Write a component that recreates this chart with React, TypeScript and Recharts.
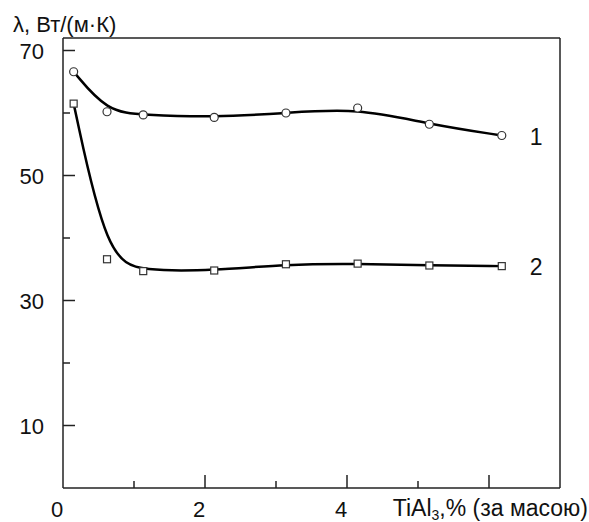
import { LineChart, Line, XAxis, YAxis, ReferenceLine, LabelList } from "recharts"

const FONT = "'Liberation Sans', Arial, sans-serif"

// concentration of TiAl3, % by mass
const xValues = [0.15, 0.62, 1.13, 2.13, 3.14, 4.15, 5.16, 6.18]
// thermal conductivity, curve 1 (circles) and curve 2 (squares)
const series1 = [66.6, 60.2, 59.7, 59.3, 60.0, 60.8, 58.2, 56.4]
const series2 = [61.5, 36.6, 34.7, 34.8, 35.8, 35.9, 35.6, 35.5]

const yTicks = [0, 10, 20, 30, 40, 50, 60, 70]
const yLabeled = [10, 30, 50, 70]
const xTicks = [0, 1, 2, 3, 4, 5, 6, 7]
const xLabeled = [0, 2, 4]

const data = xValues.map((x, i) => ({ x, s1: series1[i], s2: series2[i] }))

const YTick = (props: any) => {
  const { x, y, payload } = props
  const v = payload.value
  if (v === 0) return null
  const major = yLabeled.includes(v)
  return (
    <g>
      <line x1={x} x2={x + (major ? 12 : 7)} y1={y} y2={y} stroke="#222" strokeWidth={1.5} />
      {major && (
        <text x={x - 19} y={y + 8} textAnchor="end" fontSize={22} fontFamily={FONT} fill="#111">
          {v}
        </text>
      )}
    </g>
  )
}

const XTick = (props: any) => {
  const { x, y, payload } = props
  const v = payload.value
  const major = v % 2 === 0
  return (
    <g>
      {v > 0 && v < 7 && (
        <line x1={x} x2={x} y1={y} y2={y - (major ? 13 : 7)} stroke="#222" strokeWidth={1.5} />
      )}
      {xLabeled.includes(v) && (
        <text x={x - 6} y={y + 29} textAnchor="middle" fontSize={22} fontFamily={FONT} fill="#111">
          {v}
        </text>
      )}
    </g>
  )
}

const CircleDot = (props: any) => {
  const { cx, cy } = props
  return <circle cx={cx} cy={cy} r={4} fill="#fff" stroke="#333" strokeWidth={1.2} />
}

const SquareDot = (props: any) => {
  const { cx, cy } = props
  return <rect x={cx - 3.5} y={cy - 3.5} width={7} height={7} fill="#fff" stroke="#333" strokeWidth={1.2} />
}

const seriesLabel = (name: string) => (props: any) => {
  const { x, y, index } = props
  if (index !== xValues.length - 1) return null
  return (
    <text x={x + 28} y={y + 9} fontSize={23} fontFamily={FONT} fill="#111">
      {name}
    </text>
  )
}

const YTitle = (props: any) => {
  const vb = props.viewBox || { x: 0, y: 38 }
  return (
    <text x={vb.x + 13} y={vb.y - 6} fontSize={22} fontFamily={FONT} fill="#111">
      λ, Вт/(м·К)
    </text>
  )
}

const XTitle = (props: any) => {
  const vb = props.viewBox || { x: 63, y: 488, width: 497 }
  return (
    <text x={vb.x + vb.width + 28} y={vb.y + 28} textAnchor="end" fontSize={23} fontFamily={FONT} fill="#111">
      TiAl
      <tspan fontSize={14} dy={4}>3</tspan>
      <tspan dy={-4}>,% (за масою)</tspan>
    </text>
  )
}

export default function App() {
  return (
    <div style={{ position: "absolute", left: 0, top: 0, background: "#fff", fontFamily: FONT }}>
      <LineChart width={589} height={522} data={data} margin={{ top: 38, right: 29, bottom: 0, left: 0 }}>
        <XAxis
          dataKey="x"
          type="number"
          domain={[0, 7]}
          ticks={xTicks}
          tick={<XTick />}
          tickLine={false}
          tickSize={0}
          tickMargin={0}
          height={34}
          axisLine={{ stroke: "#222", strokeWidth: 1.5 }}
          label={{ content: <XTitle /> }}
        />
        <YAxis
          type="number"
          domain={[0, 72]}
          ticks={yTicks}
          tick={<YTick />}
          tickLine={false}
          tickSize={0}
          tickMargin={0}
          width={63}
          axisLine={{ stroke: "#222", strokeWidth: 1.5 }}
          label={{ content: <YTitle /> }}
        />
        <ReferenceLine y={72} stroke="#222" strokeWidth={1.5} />
        <ReferenceLine x={7} stroke="#222" strokeWidth={1.5} />
        <Line
          dataKey="s1"
          type="basis"
          stroke="#000"
          strokeWidth={2.5}
          dot={<CircleDot />}
          activeDot={false}
          isAnimationActive={false}
        >
          <LabelList dataKey="s1" content={seriesLabel("1")} />
        </Line>
        <Line
          dataKey="s2"
          type="basis"
          stroke="#000"
          strokeWidth={2.5}
          dot={<SquareDot />}
          activeDot={false}
          isAnimationActive={false}
        >
          <LabelList dataKey="s2" content={seriesLabel("2")} />
        </Line>
      </LineChart>
    </div>
  )
}
